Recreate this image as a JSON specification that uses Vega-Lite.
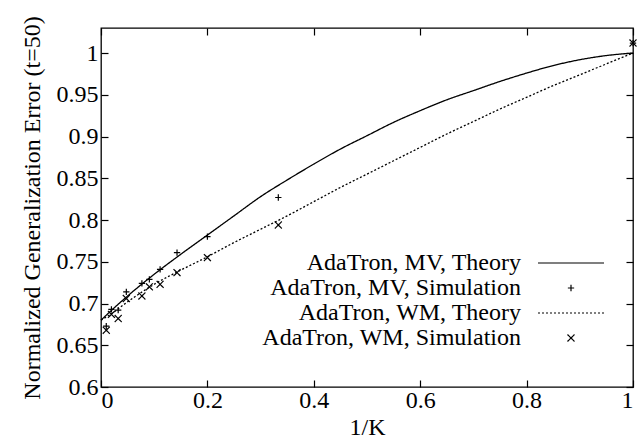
{
  "$schema": "https://vega.github.io/schema/vega-lite/v6.json",
  "width": 532,
  "height": 359,
  "autosize": "none",
  "padding": {"left": 101, "top": 28, "right": 7, "bottom": 56},
  "background": "white",
  "config": {
    "view": {"stroke": "black", "strokeWidth": 1.3},
    "font": "Liberation Serif",
    "axis": {
      "grid": false, "domain": false, "tickColor": "black", "tickSize": -7, "tickWidth": 1.2,
      "labelFont": "Liberation Serif", "labelFontSize": 24, "labelColor": "black",
      "titleFont": "Liberation Serif", "titleFontSize": 24, "titleFontWeight": "normal", "titleColor": "black"
    },
    "legend": {
      "orient": "none", "legendX": 458, "legendY": 223, "padding": 0,
      "labelAlign": "right", "labelOffset": -62, "labelFont": "Liberation Serif", "labelFontSize": 24,
      "labelColor": "black", "labelLimit": 500, "rowPadding": 1,
      "symbolStrokeColor": "black", "symbolStrokeWidth": 1.2, "symbolFillColor": "transparent", "symbolSize": 49, "symbolOpacity": 1
    }
  },
  "layer": [
    {
      "data": {"values": [
        {"series": "AdaTron, MV, Theory", "x": 0, "y": 0.680},
        {"series": "AdaTron, MV, Theory", "x": 0.02, "y": 0.692},
        {"series": "AdaTron, MV, Theory", "x": 0.05, "y": 0.709},
        {"series": "AdaTron, MV, Theory", "x": 0.1, "y": 0.735},
        {"series": "AdaTron, MV, Theory", "x": 0.15, "y": 0.759},
        {"series": "AdaTron, MV, Theory", "x": 0.2, "y": 0.782},
        {"series": "AdaTron, MV, Theory", "x": 0.25, "y": 0.805},
        {"series": "AdaTron, MV, Theory", "x": 0.3, "y": 0.828},
        {"series": "AdaTron, MV, Theory", "x": 0.35, "y": 0.848},
        {"series": "AdaTron, MV, Theory", "x": 0.4, "y": 0.867},
        {"series": "AdaTron, MV, Theory", "x": 0.45, "y": 0.885},
        {"series": "AdaTron, MV, Theory", "x": 0.5, "y": 0.901},
        {"series": "AdaTron, MV, Theory", "x": 0.55, "y": 0.917},
        {"series": "AdaTron, MV, Theory", "x": 0.6, "y": 0.931},
        {"series": "AdaTron, MV, Theory", "x": 0.65, "y": 0.944},
        {"series": "AdaTron, MV, Theory", "x": 0.7, "y": 0.955},
        {"series": "AdaTron, MV, Theory", "x": 0.75, "y": 0.966},
        {"series": "AdaTron, MV, Theory", "x": 0.8, "y": 0.976},
        {"series": "AdaTron, MV, Theory", "x": 0.85, "y": 0.985},
        {"series": "AdaTron, MV, Theory", "x": 0.9, "y": 0.992},
        {"series": "AdaTron, MV, Theory", "x": 0.95, "y": 0.997},
        {"series": "AdaTron, MV, Theory", "x": 1.0, "y": 1.0},
        {"series": "AdaTron, WM, Theory", "x": 0, "y": 0.680},
        {"series": "AdaTron, WM, Theory", "x": 0.02, "y": 0.688},
        {"series": "AdaTron, WM, Theory", "x": 0.05, "y": 0.702},
        {"series": "AdaTron, WM, Theory", "x": 0.1, "y": 0.723},
        {"series": "AdaTron, WM, Theory", "x": 0.15, "y": 0.740},
        {"series": "AdaTron, WM, Theory", "x": 0.2, "y": 0.756},
        {"series": "AdaTron, WM, Theory", "x": 0.25, "y": 0.773},
        {"series": "AdaTron, WM, Theory", "x": 0.3, "y": 0.789},
        {"series": "AdaTron, WM, Theory", "x": 0.35, "y": 0.805},
        {"series": "AdaTron, WM, Theory", "x": 0.4, "y": 0.822},
        {"series": "AdaTron, WM, Theory", "x": 0.45, "y": 0.839},
        {"series": "AdaTron, WM, Theory", "x": 0.5, "y": 0.855},
        {"series": "AdaTron, WM, Theory", "x": 0.55, "y": 0.871},
        {"series": "AdaTron, WM, Theory", "x": 0.6, "y": 0.887},
        {"series": "AdaTron, WM, Theory", "x": 0.65, "y": 0.903},
        {"series": "AdaTron, WM, Theory", "x": 0.7, "y": 0.918},
        {"series": "AdaTron, WM, Theory", "x": 0.75, "y": 0.933},
        {"series": "AdaTron, WM, Theory", "x": 0.8, "y": 0.947},
        {"series": "AdaTron, WM, Theory", "x": 0.85, "y": 0.961},
        {"series": "AdaTron, WM, Theory", "x": 0.9, "y": 0.974},
        {"series": "AdaTron, WM, Theory", "x": 0.95, "y": 0.987},
        {"series": "AdaTron, WM, Theory", "x": 1.0, "y": 1.0}
      ]},
      "mark": {"type": "line", "color": "black", "strokeWidth": 1.3, "interpolate": "monotone"},
      "encoding": {
        "x": {"field": "x", "type": "quantitative", "scale": {"domain": [0, 1]},
              "axis": {"values": [0, 0.2, 0.4, 0.6, 0.8, 1], "format": "~g", "labelPadding": 8, "title": "1/K", "titlePadding": 3}},
        "y": {"field": "y", "type": "quantitative", "scale": {"domain": [0.6, 1.03], "nice": false, "zero": false},
              "axis": {"values": [0.6, 0.65, 0.7, 0.75, 0.8, 0.85, 0.9, 0.95, 1], "format": "~g", "labelPadding": 10,
                       "title": "Normalized Generalization Error (t=50)", "titlePadding": 12}},
        "strokeDash": {"field": "series", "type": "nominal",
          "scale": {"domain": ["AdaTron, MV, Theory", "AdaTron, MV, Simulation", "AdaTron, WM, Theory", "AdaTron, WM, Simulation"],
                    "range": [[1, 0], [1, 0], [2, 2], [1, 0]]},
          "legend": {"title": null}}
      }
    },
    {
      "data": {"values": [
        {"series": "AdaTron, MV, Simulation", "x": 0.0099, "y": 0.673},
        {"series": "AdaTron, MV, Simulation", "x": 0.0196, "y": 0.693},
        {"series": "AdaTron, MV, Simulation", "x": 0.0323, "y": 0.692},
        {"series": "AdaTron, MV, Simulation", "x": 0.0476, "y": 0.714},
        {"series": "AdaTron, MV, Simulation", "x": 0.0769, "y": 0.724},
        {"series": "AdaTron, MV, Simulation", "x": 0.0909, "y": 0.729},
        {"series": "AdaTron, MV, Simulation", "x": 0.1111, "y": 0.741},
        {"series": "AdaTron, MV, Simulation", "x": 0.1429, "y": 0.761},
        {"series": "AdaTron, MV, Simulation", "x": 0.2, "y": 0.780},
        {"series": "AdaTron, MV, Simulation", "x": 0.3333, "y": 0.827},
        {"series": "AdaTron, MV, Simulation", "x": 1.0, "y": 1.012},
        {"series": "AdaTron, WM, Simulation", "x": 0.0099, "y": 0.668},
        {"series": "AdaTron, WM, Simulation", "x": 0.0196, "y": 0.687},
        {"series": "AdaTron, WM, Simulation", "x": 0.0323, "y": 0.682},
        {"series": "AdaTron, WM, Simulation", "x": 0.0476, "y": 0.706},
        {"series": "AdaTron, WM, Simulation", "x": 0.0769, "y": 0.709},
        {"series": "AdaTron, WM, Simulation", "x": 0.0909, "y": 0.720},
        {"series": "AdaTron, WM, Simulation", "x": 0.1111, "y": 0.723},
        {"series": "AdaTron, WM, Simulation", "x": 0.1429, "y": 0.737},
        {"series": "AdaTron, WM, Simulation", "x": 0.2, "y": 0.755},
        {"series": "AdaTron, WM, Simulation", "x": 0.3333, "y": 0.794},
        {"series": "AdaTron, WM, Simulation", "x": 1.0, "y": 1.012}
      ]},
      "mark": {"type": "point", "filled": false, "color": "black", "strokeWidth": 1.2, "opacity": 1, "size": 49},
      "encoding": {
        "x": {"field": "x", "type": "quantitative",
              "axis": {"orient": "top", "labels": false, "title": null, "values": [0, 0.2, 0.4, 0.6, 0.8, 1]}},
        "y": {"field": "y", "type": "quantitative",
              "axis": {"orient": "right", "labels": false, "title": null, "values": [0.6, 0.65, 0.7, 0.75, 0.8, 0.85, 0.9, 0.95, 1]}},
        "shape": {"field": "series", "type": "nominal",
          "scale": {"domain": ["AdaTron, MV, Theory", "AdaTron, MV, Simulation", "AdaTron, WM, Theory", "AdaTron, WM, Simulation"],
                    "range": ["M-9.43,0H9.43", "M-0.9,0H0.9M0,-0.9V0.9", "M-9.43,0H9.43", "M-1,-1L1,1M-1,1L1,-1"]},
          "legend": {"title": null}},
        "strokeDash": {"field": "series", "type": "nominal", "legend": {"title": null}}
      }
    }
  ],
  "resolve": {"axis": {"x": "independent", "y": "independent"}}
}
